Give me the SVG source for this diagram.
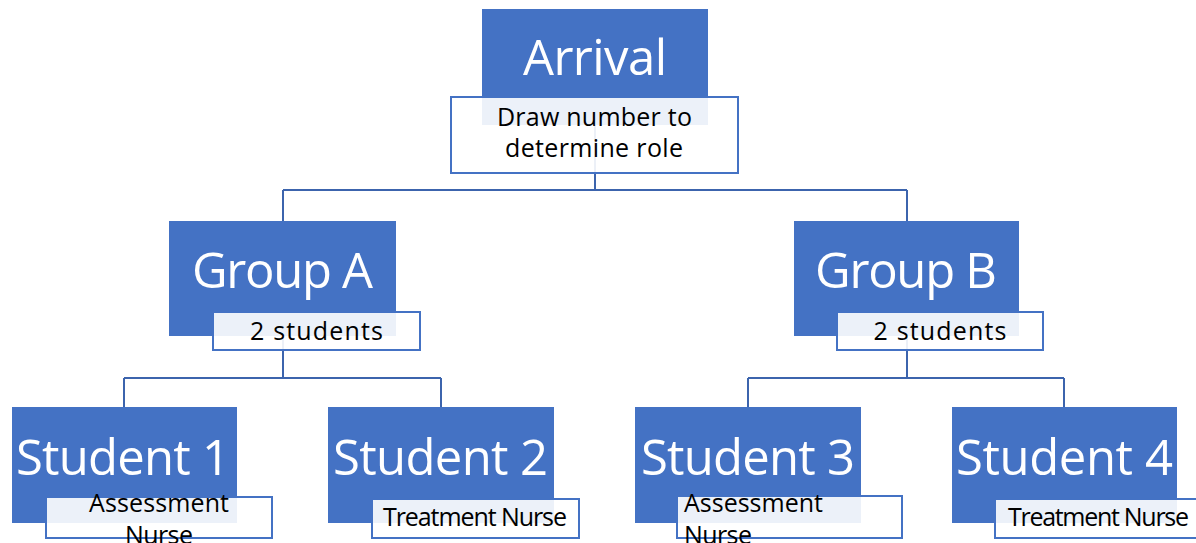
<svg xmlns="http://www.w3.org/2000/svg" width="1196" height="543" viewBox="0 0 1196 543">
<style>
.box{fill:#4472C4;}
.lbl{fill:#FFFFFF;fill-opacity:0.9;stroke:#4472C4;stroke-width:2;}
.big{font-family:"Open Sans","Liberation Sans",sans-serif;font-size:49px;fill:#FFFFFF;}
.sm{font-family:"Open Sans","Liberation Sans",sans-serif;font-size:25px;fill:#000000;}
.con{stroke:#3C64AD;stroke-width:2;fill:none;}
</style>
<rect width="1196" height="543" fill="#FFFFFF"/>
<g id="connectors">
<path class="con" d="M595,125 V190 M283,190 H907 M283,190 V221 M907,190 V221"/>
<path class="con" d="M283,336 V378 M124,378 H441 M124,378 V407 M441,378 V407"/>
<path class="con" d="M907,336 V378 M748,378 H1064 M748,378 V407 M1064,378 V407"/>
</g>
<g id="arrival">
<rect class="box" x="482" y="9" width="226" height="116"/>
<text class="big" x="595" y="75" text-anchor="middle" textLength="144">Arrival</text>
<rect class="lbl" x="451" y="97" width="287" height="76"/>
<text class="sm" x="594.5" y="126" text-anchor="middle" textLength="195">Draw number to</text>
<text class="sm" x="594" y="157" text-anchor="middle" textLength="178">determine role</text>
</g>
<g id="groupA">
<rect class="box" x="169" y="221" width="227" height="115"/>
<text class="big" x="282.5" y="288" text-anchor="middle" textLength="181">Group A</text>
<rect class="lbl" x="213" y="312" width="207" height="38"/>
<text class="sm" x="316.5" y="340" text-anchor="middle" textLength="133">2 students</text>
</g>
<g id="groupB">
<rect class="box" x="794" y="221" width="225" height="115"/>
<text class="big" x="906" y="288" text-anchor="middle" textLength="182">Group B</text>
<rect class="lbl" x="837" y="312" width="206" height="38"/>
<text class="sm" x="940" y="340" text-anchor="middle" textLength="133">2 students</text>
</g>
<g id="student1">
<rect class="box" x="12" y="407" width="225" height="116"/>
<text class="big" x="123" y="475" text-anchor="middle" textLength="214">Student 1</text>
<rect class="lbl" x="46" y="497" width="226" height="41"/>
<text class="sm" x="159" y="512" text-anchor="middle" textLength="140">Assessment</text>
<text class="sm" x="159" y="544" text-anchor="middle" textLength="68">Nurse</text>
</g>
<g id="student2">
<rect class="box" x="328" y="407" width="226" height="116"/>
<text class="big" x="440.5" y="475" text-anchor="middle" textLength="215">Student 2</text>
<rect class="lbl" x="372" y="499" width="207" height="39"/>
<text class="sm" x="475" y="526" text-anchor="middle" textLength="184">Treatment Nurse</text>
</g>
<g id="student3">
<rect class="box" x="635" y="407" width="226" height="116"/>
<text class="big" x="748" y="475" text-anchor="middle" textLength="214">Student 3</text>
<rect class="lbl" x="677" y="496" width="225" height="42"/>
<text class="sm" x="684" y="512" textLength="139">Assessment</text>
<text class="sm" x="684" y="544" textLength="68">Nurse</text>
</g>
<g id="student4">
<rect class="box" x="952" y="407" width="225" height="116"/>
<text class="big" x="1064.5" y="475" text-anchor="middle" textLength="217">Student 4</text>
<rect class="lbl" x="995" y="499" width="205" height="39"/>
<text class="sm" x="1098.5" y="526" text-anchor="middle" textLength="181">Treatment Nurse</text>
</g>
</svg>
